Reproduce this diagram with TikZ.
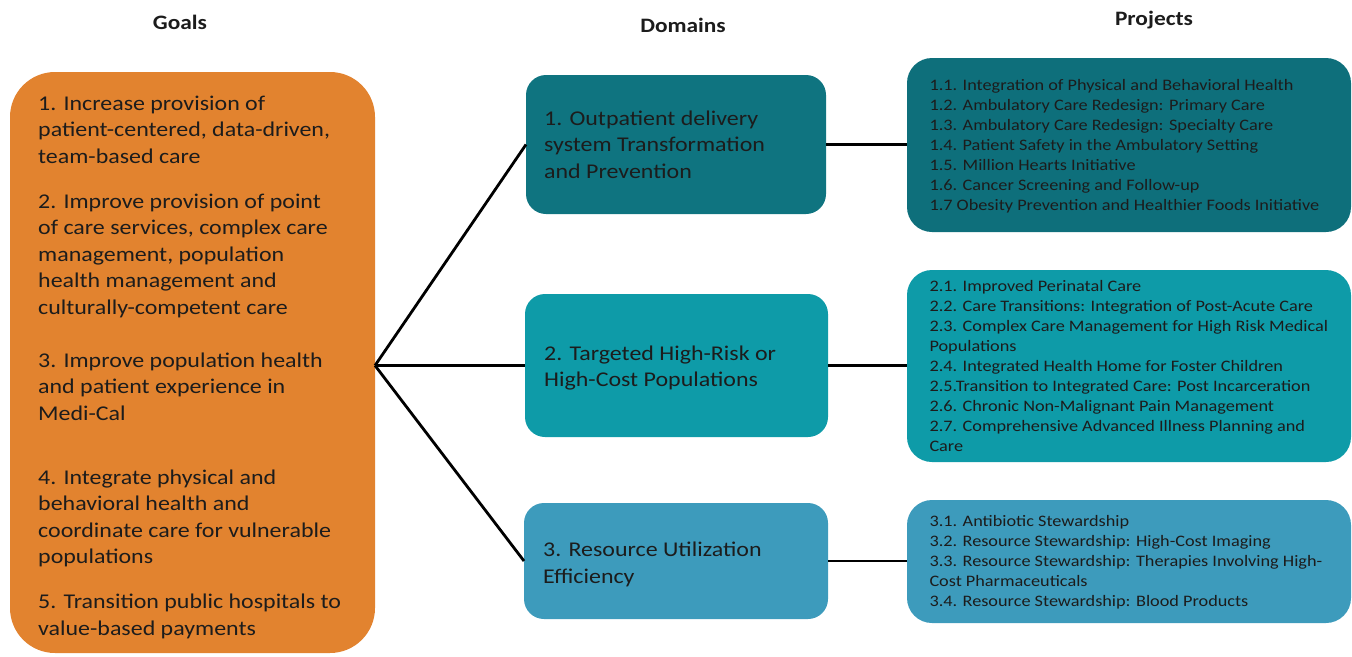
\documentclass[tikz,border=0pt]{standalone}
\usepackage{fontspec}
\setmainfont{Carlito}[FakeStretch=1.14]
\definecolor{goalorange}{RGB}{226,131,47}
\definecolor{domA}{RGB}{15,116,128}
\definecolor{domB}{RGB}{14,155,168}
\definecolor{domC}{RGB}{61,155,188}
\definecolor{projA}{RGB}{14,111,123}
\definecolor{txt}{RGB}{28,28,28}
\begin{document}
\begin{tikzpicture}[x=1pt,y=-1pt,
  panel/.style={draw=none, inner sep=0pt, outer sep=0pt},
  bigtext/.style={anchor=north west, inner sep=0pt, align=left, text=txt,
    font=\fontsize{21}{26.5}\selectfont},
  smalltext/.style={anchor=north west, inner sep=0pt, align=left, text=txt,
    font=\fontsize{16}{20}\selectfont},
  header/.style={anchor=base, inner sep=0pt, text=txt,
    font=\fontsize{20.5}{24}\selectfont\bfseries},
  link/.style={draw=black, line width=2.8pt}
]
\useasboundingbox (0,0) rectangle (1352,656);

% headers
\node[header] (hgoals) at (180,29) {Goals};
\node[header] (hdom) at (683,32) {Domains};
\node[header] (hproj) at (1154,25) {Projects};

% boxes
\node[panel, fill=goalorange, rounded corners=45pt, minimum width=365pt, minimum height=581pt] (goals) at (192.5,362.5) {};
\node[panel, fill=domA, rounded corners=20pt, minimum width=300pt, minimum height=139pt] (d1) at (676,144.5) {};
\node[panel, fill=domB, rounded corners=20pt, minimum width=303pt, minimum height=143pt] (d2) at (676.5,365.5) {};
\node[panel, fill=domC, rounded corners=20pt, minimum width=304pt, minimum height=116pt] (d3) at (676,561) {};
\node[panel, fill=projA, rounded corners=25pt, minimum width=444pt, minimum height=174pt] (p1) at (1129,145) {};
\node[panel, fill=domB, rounded corners=25pt, minimum width=444pt, minimum height=192pt] (p2) at (1129,366) {};
\node[panel, fill=domC, rounded corners=25pt, minimum width=444pt, minimum height=123pt] (p3) at (1129,561.5) {};

% goal texts
\node[bigtext] (gtext) at (38,91.45) {\strut 1. Increase provision of\\
patient-centered, data-driven,\\
team-based care\\[18.5pt]
2. Improve provision of point\\
of care services, complex care\\
management, population\\
health management and\\
culturally-competent care\\[26.5pt]
3. Improve population health\\
and patient experience in\\
Medi-Cal\\[37.5pt]
4. Integrate physical and\\
behavioral health and\\
coordinate care for vulnerable\\
populations\\[18.5pt]
5. Transition public hospitals to\\
value-based payments};

% domain texts
\node[bigtext] (d1text) at (544,106.45) {\strut 1. Outpatient delivery\\ system Transformation\\ and Prevention};
\node[bigtext] (d2text) at (544,341.45) {\strut 2. Targeted High-Risk or\\ High-Cost Populations};
\node[bigtext] (d3text) at (543,538.15) {\strut 3. Resource Utilization\\ Efficiency};

% project texts
\node[smalltext] (p1text) at (929.3,76) {\strut 1.1. Integration of Physical and Behavioral Health\\
1.2. Ambulatory Care Redesign: Primary Care\\
1.3. Ambulatory Care Redesign: Specialty Care\\
1.4. Patient Safety in the Ambulatory Setting\\
1.5. Million Hearts Initiative\\
1.6. Cancer Screening and Follow-up\\
1.7 Obesity Prevention and Healthier Foods Initiative};
\node[smalltext] (p2text) at (929.3,277) {\strut 2.1. Improved Perinatal Care\\
2.2. Care Transitions: Integration of Post-Acute Care\\
2.3. Complex Care Management for High Risk Medical\\
Populations\\
2.4. Integrated Health Home for Foster Children\\
2.5.Transition to Integrated Care: Post Incarceration\\
2.6. Chronic Non-Malignant Pain Management\\
2.7. Comprehensive Advanced Illness Planning and\\
Care};
\node[smalltext] (p3text) at (929.3,512.7) {\strut 3.1. Antibiotic Stewardship\\
3.2. Resource Stewardship: High-Cost Imaging\\
3.3. Resource Stewardship: Therapies Involving High-\\
Cost Pharmaceuticals\\
3.4. Resource Stewardship: Blood Products};

% connectors
\coordinate (hub) at (goals.east |- d2.west);
\draw[link] (hub) -- (d1.west);
\draw[link] (hub) -- (d2.west);
\draw[link] (hub) -- (d3.west);
\draw[link] (d1.east) -- (d1.east -| p1.west);
\draw[link] (d2.east) -- (d2.east -| p2.west);
\draw[link] (d3.east) -- (d3.east -| p3.west);
\end{tikzpicture}
\end{document}
